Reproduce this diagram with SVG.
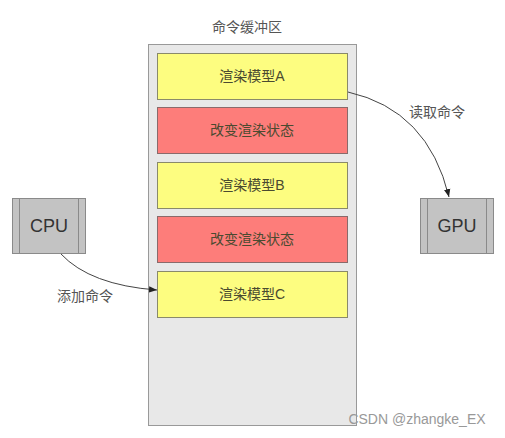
<svg xmlns="http://www.w3.org/2000/svg" width="505" height="438" viewBox="0 0 505 438">
<defs>
<style>
text{font-family:"Liberation Sans","Noto Sans CJK SC",sans-serif;}
.lbl{font-size:14px;fill:#555;text-anchor:middle;}
.bt{font-size:14px;fill:#4a4a30;text-anchor:middle;}
.y{fill:#fdfd80;stroke:#8a8a6a;stroke-width:1;}
.r{fill:#fd7d7a;stroke:#8a6a6a;stroke-width:1;}
.chip{fill:#c3c3c3;stroke:#8a8a8a;stroke-width:1;}
.cl{stroke:#8a8a8a;stroke-width:1;fill:none;}
.ct{font-size:18px;fill:#333;text-anchor:middle;}
.conn{fill:none;stroke:#444;stroke-width:1;}
</style>
<marker id="ah" viewBox="0 0 10 10" refX="10" refY="5" markerWidth="8" markerHeight="8" orient="auto" markerUnits="userSpaceOnUse">
<path d="M0,1 L10,5 L0,9 z" fill="#222"/>
</marker>
</defs>
<rect width="505" height="438" fill="#fff"/>
<g id="buffer">
<rect x="148.5" y="44.5" width="208" height="381" fill="#e8e8e8" stroke="#999"/>
<text class="lbl" x="247" y="32">命令缓冲区</text>
</g>
<g id="renderA"><rect class="y" x="157.5" y="53.5" width="190" height="46"/><text class="bt" x="252" y="81">渲染模型A</text></g>
<g id="state1"><rect class="r" x="157.5" y="107.5" width="190" height="46"/><text class="bt" x="252" y="135">改变渲染状态</text></g>
<g id="renderB"><rect class="y" x="157.5" y="162.5" width="190" height="46"/><text class="bt" x="252" y="190">渲染模型B</text></g>
<g id="state2"><rect class="r" x="157.5" y="216.5" width="190" height="46"/><text class="bt" x="252" y="244">改变渲染状态</text></g>
<g id="renderC"><rect class="y" x="157.5" y="271.5" width="190" height="46"/><text class="bt" x="252" y="299">渲染模型C</text></g>
<g id="cpu">
<rect class="chip" x="12.5" y="198.5" width="73" height="55"/>
<line class="cl" x1="19.5" y1="198.5" x2="19.5" y2="253.5"/>
<line class="cl" x1="78.5" y1="198.5" x2="78.5" y2="253.5"/>
<text class="ct" x="49" y="232">CPU</text>
</g>
<g id="gpu">
<rect class="chip" x="420.5" y="198.5" width="73" height="55"/>
<line class="cl" x1="427.5" y1="198.5" x2="427.5" y2="253.5"/>
<line class="cl" x1="486.5" y1="198.5" x2="486.5" y2="253.5"/>
<text class="ct" x="457" y="232">GPU</text>
</g>
<g id="connectors">
<path class="conn" d="M61,254 Q90,285 157,290" marker-end="url(#ah)"/>
<text class="lbl" x="85" y="301">添加命令</text>
<path class="conn" d="M348,92 Q428,110 449,197" marker-end="url(#ah)"/>
<text class="lbl" x="437" y="117">读取命令</text>
</g>
<text x="417" y="424" font-size="14" fill="#999" text-anchor="middle">CSDN @zhangke_EX</text>
</svg>
